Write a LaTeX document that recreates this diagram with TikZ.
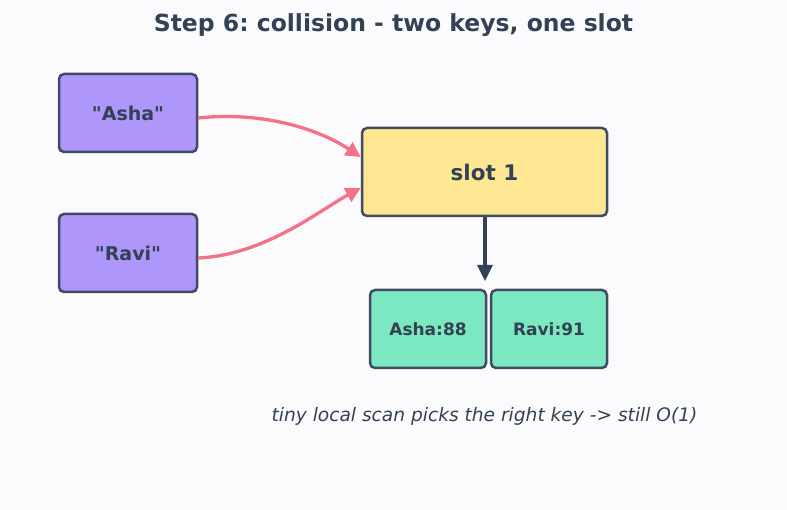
\documentclass[tikz,border=0pt]{standalone}
\usepackage{fontspec}
\setmainfont{DejaVu Sans}[Ligatures=TeXOff]
\usetikzlibrary{arrows.meta}
\frenchspacing
\definecolor{bgc}{HTML}{FBFBFE}
\definecolor{ink}{HTML}{334155}
\definecolor{edge}{HTML}{424A63}
\definecolor{keyfill}{HTML}{AE96FB}
\definecolor{slotfill}{HTML}{FDE792}
\definecolor{entfill}{HTML}{7BE8C1}
\definecolor{pink}{HTML}{F47187}
\tikzset{
  box/.style={draw=edge, line width=2.5pt, rounded corners=5pt, inner sep=0pt, text=ink, font=\bfseries},
  keybox/.style={box, fill=keyfill, minimum width=138pt, minimum height=78pt, font=\bfseries\fontsize{19}{22}\selectfont},
  slotbox/.style={box, fill=slotfill, minimum width=245pt, minimum height=88pt, font=\bfseries\fontsize{21.5}{25}\selectfont},
  entbox/.style={box, fill=entfill, minimum width=116pt, minimum height=78pt, font=\bfseries\fontsize{17}{20}\selectfont},
  hasharrow/.style={draw=pink, line width=3.3pt, -{Triangle[length=15pt,width=15pt]}},
  downarrow/.style={draw=ink, line width=3.2pt, -{Triangle[length=16pt,width=15pt]}},
}
\begin{document}
\begin{tikzpicture}[x=1pt,y=-1pt]
\fill[bgc] (0,0) rectangle (787,510);
\useasboundingbox (0,0) rectangle (787,510);
\node[text=ink, font=\bfseries\fontsize{23.5}{28}\selectfont] (title) at (393.5,25.5) {Step 6: collision - two keys, one slot};
\node[keybox] (asha) at (128,113) {"Asha"};
\node[keybox] (ravi) at (128,253) {"Ravi"};
\node[slotbox] (slot) at (484.5,172) {slot 1};
\node[entbox] (e1) at (428,329) {Asha:88};
\node[entbox] (e2) at (549,329) {Ravi:91};
\coordinate (tip) at (485,281);
\draw[hasharrow] ([yshift=-5pt]asha.east) .. controls (265,111) and (320,130) .. ([yshift=15pt]slot.west);
\draw[hasharrow] ([yshift=-5pt]ravi.east) .. controls (265,255) and (320,210) .. ([yshift=-16pt]slot.west);
\draw[downarrow] (slot.south -| tip) -- (tip);
\node[text=ink, font=\itshape\fontsize{18.6}{22}\selectfont] (cap) at (484.5,416.5) {tiny local scan picks the right key -> still O(1)};
\end{tikzpicture}
\end{document}
